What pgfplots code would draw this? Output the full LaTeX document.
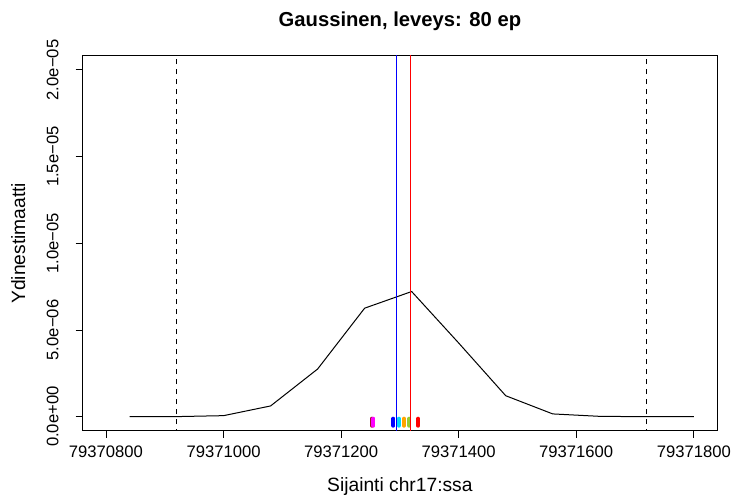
\documentclass[border=0pt]{standalone}
\usepackage{pgfplots}
\pgfplotsset{compat=1.18}
\usepackage{fontspec}
\setmainfont{Liberation Sans}
\definecolor{rugA}{HTML}{A0102A}
\definecolor{rugB}{HTML}{FF00FF}
\definecolor{rugC}{HTML}{0000FF}
\definecolor{rugD}{HTML}{00D8FF}
\definecolor{rugE}{HTML}{FFA500}
\definecolor{rugF}{HTML}{99CC33}
\definecolor{rugG}{HTML}{FF0000}
% x values are positions minus 79370000 (tick labels show full positions)
\pgfplotstableread{
x y
840 0
920 0.005e-6
1000 0.06e-6
1080 0.62e-6
1160 2.75e-6
1240 6.26e-6
1320 7.22e-6
1400 4.25e-6
1480 1.21e-6
1560 0.16e-6
1640 0.02e-6
1720 0
1800 0
}\density
\begin{document}
\begin{tikzpicture}[x=1bp,y=1bp]
\path[use as bounding box] (0,0) rectangle (739,502);
\begin{axis}[
  at={(82.5bp,71bp)}, anchor=south west, scale only axis,
  width=634.8bp, height=375.3bp,
  xmin=760, xmax=1840, ymin=-0.825e-6, ymax=20.825e-6,
  axis line style={line width=1bp},
  xtick={800,1000,1200,1400,1600,1800},
  xticklabels=\empty,
  ytick={0,5e-6,1e-5,1.5e-5,2e-5},
  yticklabels=\empty,
  tick align=outside, xtick pos=bottom, ytick pos=left,
  major tick length=7bp, tick style={line width=1bp, black},
  scaled y ticks=false,
  clip=true,
]
\addplot[black, line width=1bp] table[x=x,y=y] {\density};
\addplot[black, line width=1bp, dash pattern=on 5bp off 5bp] coordinates {(920,-1e-6) (920,22e-6)};
\addplot[black, line width=1bp, dash pattern=on 5bp off 5bp] coordinates {(1720,-1e-6) (1720,22e-6)};
\addplot[rugA, line width=4bp, line cap=round] coordinates {(1252,-0.115e-6) (1252,-0.52e-6)};
\addplot[rugB, line width=4bp, line cap=round] coordinates {(1255,-0.115e-6) (1255,-0.52e-6)};
\addplot[rugC, line width=4bp, line cap=round] coordinates {(1289,-0.115e-6) (1289,-0.52e-6)};
\addplot[rugD, line width=4bp, line cap=round] coordinates {(1298,-0.115e-6) (1298,-0.52e-6)};
\addplot[rugE, line width=4bp, line cap=round] coordinates {(1307,-0.115e-6) (1307,-0.52e-6)};
\addplot[rugF, line width=4bp, line cap=round] coordinates {(1316,-0.115e-6) (1316,-0.52e-6)};
\addplot[rugG, line width=4bp, line cap=round] coordinates {(1331,-0.115e-6) (1331,-0.52e-6)};
\addplot[blue, line width=1bp] coordinates {(1293.5,-1e-6) (1293.5,22e-6)};
\addplot[red, line width=1bp] coordinates {(1318.5,-1e-6) (1318.5,22e-6)};
\end{axis}
% x tick labels
\begin{scope}[every node/.style={anchor=base, inner sep=0pt, font=\fontsize{16.7}{19}\selectfont}]
\node at (106.0,44.5) {79370800};
\node at (223.6,44.5) {79371000};
\node at (341.1,44.5) {79371200};
\node at (458.7,44.5) {79371400};
\node at (576.2,44.5) {79371600};
\node at (693.8,44.5) {79371800};
\end{scope}
% y tick labels
\begin{scope}[every node/.style={rotate=90, anchor=base, inner sep=0pt, font=\fontsize{16.7}{19}\selectfont}]
\node at (58.3,85.3) {0.0e+00};
\node at (58.3,172.0) {5.0e−06};
\node at (58.3,258.6) {1.0e−05};
\node at (58.3,345.3) {1.5e−05};
\node at (58.3,432.0) {2.0e−05};
\end{scope}
\node[anchor=base, font=\bfseries\fontsize{20.3}{24}\selectfont] at (399.9,475) {Gaussinen, leveys: 80 ep};
\node[anchor=base, font=\fontsize{19.3}{23}\selectfont] at (399.9,10) {Sijainti chr17:ssa};
\node[rotate=90, anchor=base, font=\fontsize{19.3}{23}\selectfont] at (25,258.6) {Ydinestimaatti};
\end{tikzpicture}
\end{document}
